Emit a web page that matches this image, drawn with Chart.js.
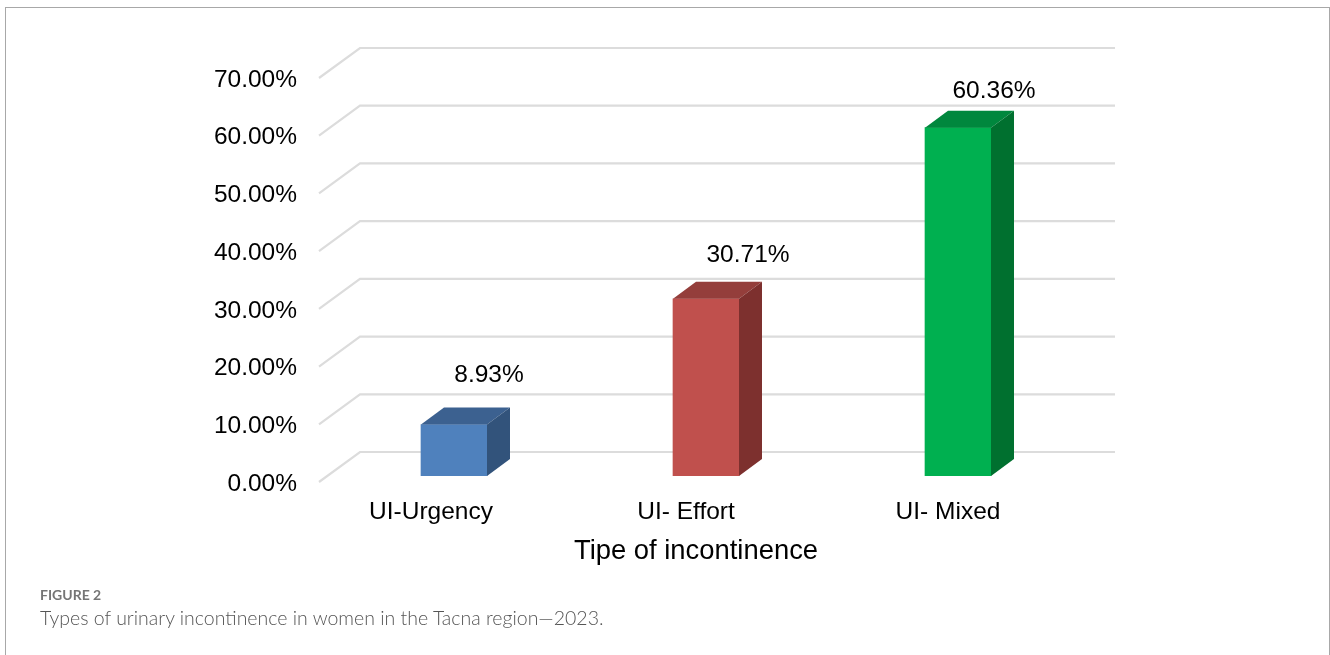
<!DOCTYPE html>
<html lang="en">
<head>
	<meta charset="utf-8">
	<script src="https://cdn.jsdelivr.net/npm/chart.js@4/dist/chart.umd.min.js"></script>
	<style>
		html, body { margin: 0; padding: 0; background: #fff; width: 1330px; height: 655px; overflow: hidden; }
		#frame { position: absolute; left: 5px; top: 7px; width: 1323px; height: 660px; border: 1px solid #a8a8a8; box-sizing: content-box; }
		#chart { position: absolute; left: 0; top: 0; }
		#figlabel { position: absolute; left: 40px; top: 586px; font: 700 14px "Lato", sans-serif; color: #757575; }
		#caption { position: absolute; left: 40px; top: 606px; font: 300 19.5px "Lato", sans-serif; color: #555; white-space: nowrap; }
	</style>
</head>

<body>

<div id="frame"></div>
<canvas id="chart" width="1330" height="655"></canvas>
<div id="figlabel">FIGURE 2</div>
<div id="caption">Types of urinary incontinence in women in the Tacna region—2023.</div>

<script type="text/javascript">
"use strict";

var categories = ['UI-Urgency', 'UI- Effort', 'UI- Mixed'];
var percentages = [8.93, 30.71, 60.36];
var frontColors = ['#4f81bd', '#c0504d', '#00b050'];
var topColors = ['#3c6190', '#943e3b', '#00873d'];
var sideColors = ['#32537b', '#7d302e', '#00702f'];

var axisTitle = 'Tipe of incontinence';

// the bars stand inside the floor, so walls and labels are offset from the bar plane
var depth = { x: 23, y: -17 };
var gridLeft = 319, gridBack = 360, gridRight = 1115;
var gridFrontDy = 6, gridBackDy = -24;
var catLabelDx = [-23, -20, -10];
var valueLabelDx = [35, 42, 36];
var valueLabelDy = [-49, -44, -36];

var font = '"Liberation Sans", Arial, sans-serif';

var wallPlugin = {
	id: 'walls',
	beforeDatasetsDraw: function(chart) {
		var ctx = chart.ctx;
		var y = chart.scales.y;
		ctx.save();
		ctx.strokeStyle = '#dcdcdc';
		ctx.lineWidth = 2.2;
		y.ticks.forEach(function(t) {
			var py = y.getPixelForValue(t.value);
			ctx.beginPath();
			ctx.moveTo(gridLeft, py + gridFrontDy);
			ctx.lineTo(gridBack, py + gridBackDy);
			ctx.lineTo(gridRight, py + gridBackDy);
			ctx.stroke();
		});
		ctx.restore();
	}
};

function poly(ctx, color, pts) {
	ctx.fillStyle = color;
	ctx.beginPath();
	ctx.moveTo(pts[0][0], pts[0][1]);
	for (var i = 1; i < pts.length; i++) {
		ctx.lineTo(pts[i][0], pts[i][1]);
	}
	ctx.closePath();
	ctx.fill();
}

var boxPlugin = {
	id: 'boxes',
	afterDatasetsDraw: function(chart) {
		var ctx = chart.ctx;
		var xs = chart.scales.x;
		var floor = chart.chartArea.bottom;
		var bars = chart.getDatasetMeta(0).data;
		ctx.save();
		bars.forEach(function(bar, i) {
			var l = bar.x - bar.width / 2;
			var r = bar.x + bar.width / 2;
			poly(ctx, topColors[i], [[l, bar.y], [r, bar.y], [r + depth.x, bar.y + depth.y], [l + depth.x, bar.y + depth.y]]);
			poly(ctx, sideColors[i], [[r, bar.y], [r + depth.x, bar.y + depth.y], [r + depth.x, bar.base + depth.y], [r, bar.base]]);
		});

		ctx.fillStyle = '#000';
		ctx.textAlign = 'center';
		ctx.textBaseline = 'middle';
		ctx.font = '24.5px ' + font;
		bars.forEach(function(bar, i) {
			ctx.fillText(percentages[i].toFixed(2) + '%', bar.x + valueLabelDx[i], bar.y + valueLabelDy[i]);
		});
		categories.forEach(function(c, i) {
			ctx.fillText(c, xs.getPixelForTick(i) + catLabelDx[i], floor + 36);
		});
		ctx.font = '27.4px ' + font;
		ctx.fillText(axisTitle, (xs.left + xs.right) / 2 - 10, floor + 75);
		ctx.restore();
	}
};

var ctx1 = document.getElementById('chart');
var barChart = new Chart(ctx1, {
	type: 'bar',
	data: {
		labels: categories,
		datasets: [{
			data: percentages,
			backgroundColor: frontColors,
			borderWidth: 0,
			barThickness: 66
		}]
	},
	plugins: [wallPlugin, boxPlugin],
	options: {
		responsive: false,
		animation: false,
		layout: { padding: { top: 72, right: 246, left: 0, bottom: 0 } },
		plugins: { legend: { display: false }, tooltip: { enabled: false } },
		scales: {
			x: {
				grid: { display: false },
				border: { display: false },
				ticks: { display: false },
				afterFit: function(scale) { scale.height = 179; }
			},
			y: {
				min: 0,
				max: 70,
				afterFit: function(scale) { scale.width = 328; },
				grid: { display: false },
				border: { display: false },
				ticks: {
					stepSize: 10,
					padding: 23,
					labelOffset: 8,
					color: '#000',
					font: { family: font, size: 24.5 },
					callback: function(v) { return v.toFixed(2) + '%'; }
				}
			}
		}
	}
});
</script>

</body>
</html>
